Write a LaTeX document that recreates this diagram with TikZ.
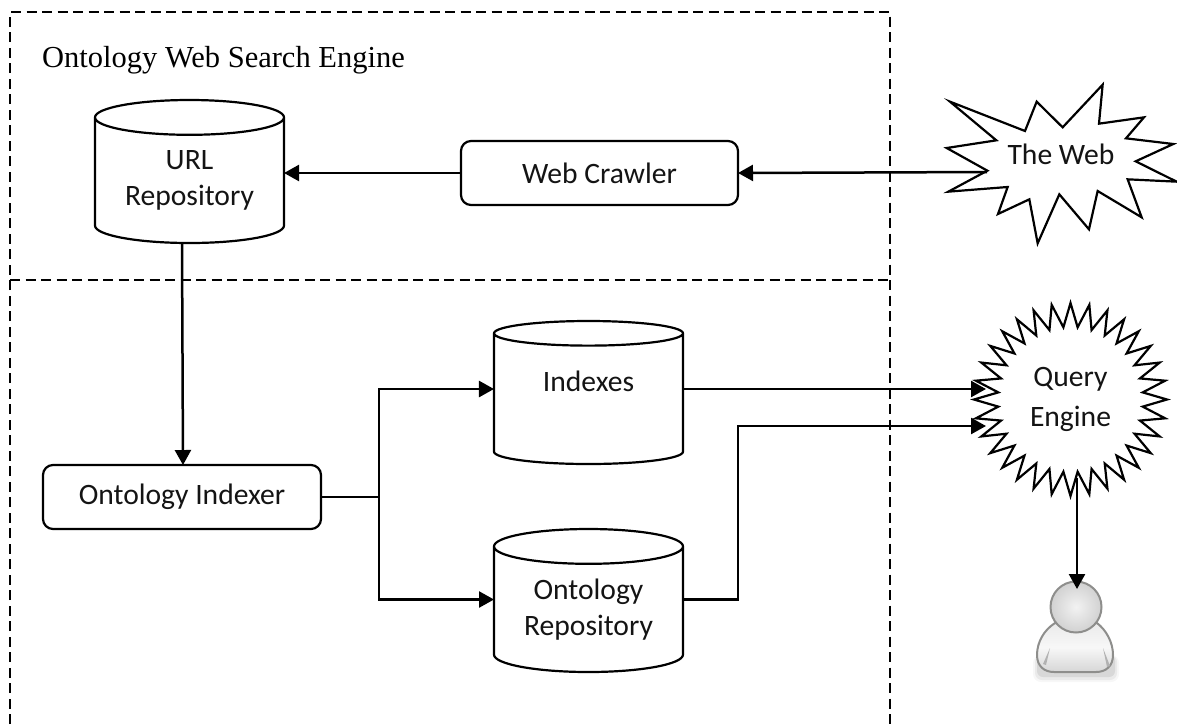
\documentclass[tikz,border=0pt]{standalone}
\usepackage{fontspec}
\setmainfont{Carlito}
\newfontfamily\titlefont{Liberation Serif}
\usetikzlibrary{shapes.geometric,arrows.meta}
\definecolor{usergray}{HTML}{8E8E8C}
\tikzset{
  lbl/.style={font=\fontsize{29.6}{36}\selectfont,align=center,text=black!92},
  ln/.style={line width=2.2pt,draw=black,outer sep=0pt},
  arr/.style={line width=2.5pt,draw=black,-{Triangle[length=15pt,width=16pt]}},
  dash box/.style={line width=2pt,draw=black,dash pattern=on 10pt off 5.5pt},
  procbox/.style={lbl,ln,fill=white,rectangle,rounded corners=10pt,inner sep=0pt},
  store/.style={lbl,ln,fill=white,cylinder,shape border rotate=90,shape aspect=0.27,
    minimum width=189pt,minimum height=143pt,inner sep=0pt,anchor=shape center},
}
\begin{document}
\begin{tikzpicture}[x=1pt,y=-1pt]
\useasboundingbox (0,0) rectangle (1177,724);
% dashed frame
\coordinate (fa) at (10,724); \coordinate (fb) at (10,12); \coordinate (fc) at (890,12); \coordinate (fd) at (890,724);
\coordinate (ma) at (10,280); \coordinate (mb) at (890,280);
\draw[dash box] (fa) -- (fb) -- (fc) -- (fd);
\draw[dash box] (ma) -- (mb);
\node[font=\titlefont\fontsize{30.5}{34}\selectfont,anchor=base west,inner sep=0pt] (title) at (42,67) {Ontology Web Search Engine};

% stores
\node[store] (url) at (189.5,171.5) {URL\\Repository};
\node[store] (idx) at (588.5,392.5) {Indexes\\\mbox{}};
\node[store] (rep) at (588.5,600.5) {Ontology\\Repository};
% process boxes
\node[procbox,minimum width=277pt,minimum height=64pt] (crawler) at (599.5,173) {Web Crawler};
\node[procbox,minimum width=278pt,minimum height=64pt] (indexer) at (182,497) {Ontology Indexer};

% The Web star
\begin{scope}[shift={(930,80)},x=0.3333pt,y=-0.3333pt]
\draw[ln,fill=white,line join=miter] (60,65)--(285,153)--(320,65)--(398,142)--(518,14)--(507,131)--(642,112)--(588,175)--(730,192)--(617,244)--(740,305)--(593,298)--(635,412)--(503,333)--(477,448)--(388,343)--(323,490)--(298,358)--(204,402)--(233,321)--(55,335)--(172,272)--(50,204)--(199,181)--cycle;
\end{scope}
\node[lbl,inner sep=0pt] (web) at (1061,154) {The Web};
\coordinate (webtip) at (987,172);

% Query star
\node[lbl,star,star points=32,star point ratio=1.33,minimum size=193pt,inner sep=0pt,ln,fill=white,font=\fontsize{29.6}{40}\selectfont] (query) at (1070.5,399.5) {Query\\Engine};

% user
\fill[black,opacity=.03,rounded corners=8pt] (1033,655) rectangle (1119,682);
\fill[black,opacity=.05,rounded corners=7pt] (1035,655) rectangle (1117,680);
\fill[black,opacity=.08,rounded corners=6pt] (1037,655) rectangle (1115,677);
\draw[usergray,line width=2pt,top color=white!92!black,bottom color=white!84!black,middle color=white!97!black]
  (1055,623) .. controls (1044,630) and (1037,642) .. (1037,655)
  .. controls (1037,666) and (1044,672) .. (1054,672) -- (1096,672)
  .. controls (1106,672) and (1113,666) .. (1113,655)
  .. controls (1113,642) and (1106,630) .. (1097,623) -- cycle;
\fill[black!30] (1050,648) -- (1043,664) -- (1046,665) -- cycle;
\fill[black!30] (1103,648) -- (1110,666) -- (1107,667) -- cycle;
\node[circle,minimum size=51pt,inner sep=0pt,draw=usergray,line width=2pt,inner color=white!95!black,outer color=white!82!black] (user) at (1076,607) {};

% connectors
\draw[arr] (webtip) -- (crawler.east);
\draw[arr] (crawler.west) -- (url.east |- crawler.west);
\coordinate (urlout) at (182,243);
\coordinate (indin) at (183,465);
\draw[arr] (urlout) -- (indin);
\coordinate (trunk) at (379,497);
\coordinate (trunktop) at (379,389);
\coordinate (trunkbot) at (379,599.5);
\draw[ln] (indexer.east) -- (trunk);
\draw[arr] (trunk) -- (trunktop) -- (trunktop -| idx.west);
\draw[arr] (trunk) -- (trunkbot) -- (trunkbot -| rep.west);
\coordinate (qa) at (986,389);
\coordinate (qb) at (986,426);
\coordinate (rx) at (738,426);
\draw[arr] (idx.east |- qa) -- (qa);
\draw[arr] (rep.east |- trunkbot) -- (rx |- trunkbot) -- (rx) -- (qb);
\coordinate (qout) at (1077,478);
\coordinate (uin) at (1077,589);
\draw[arr] (qout) -- (uin);
\end{tikzpicture}
\end{document}
